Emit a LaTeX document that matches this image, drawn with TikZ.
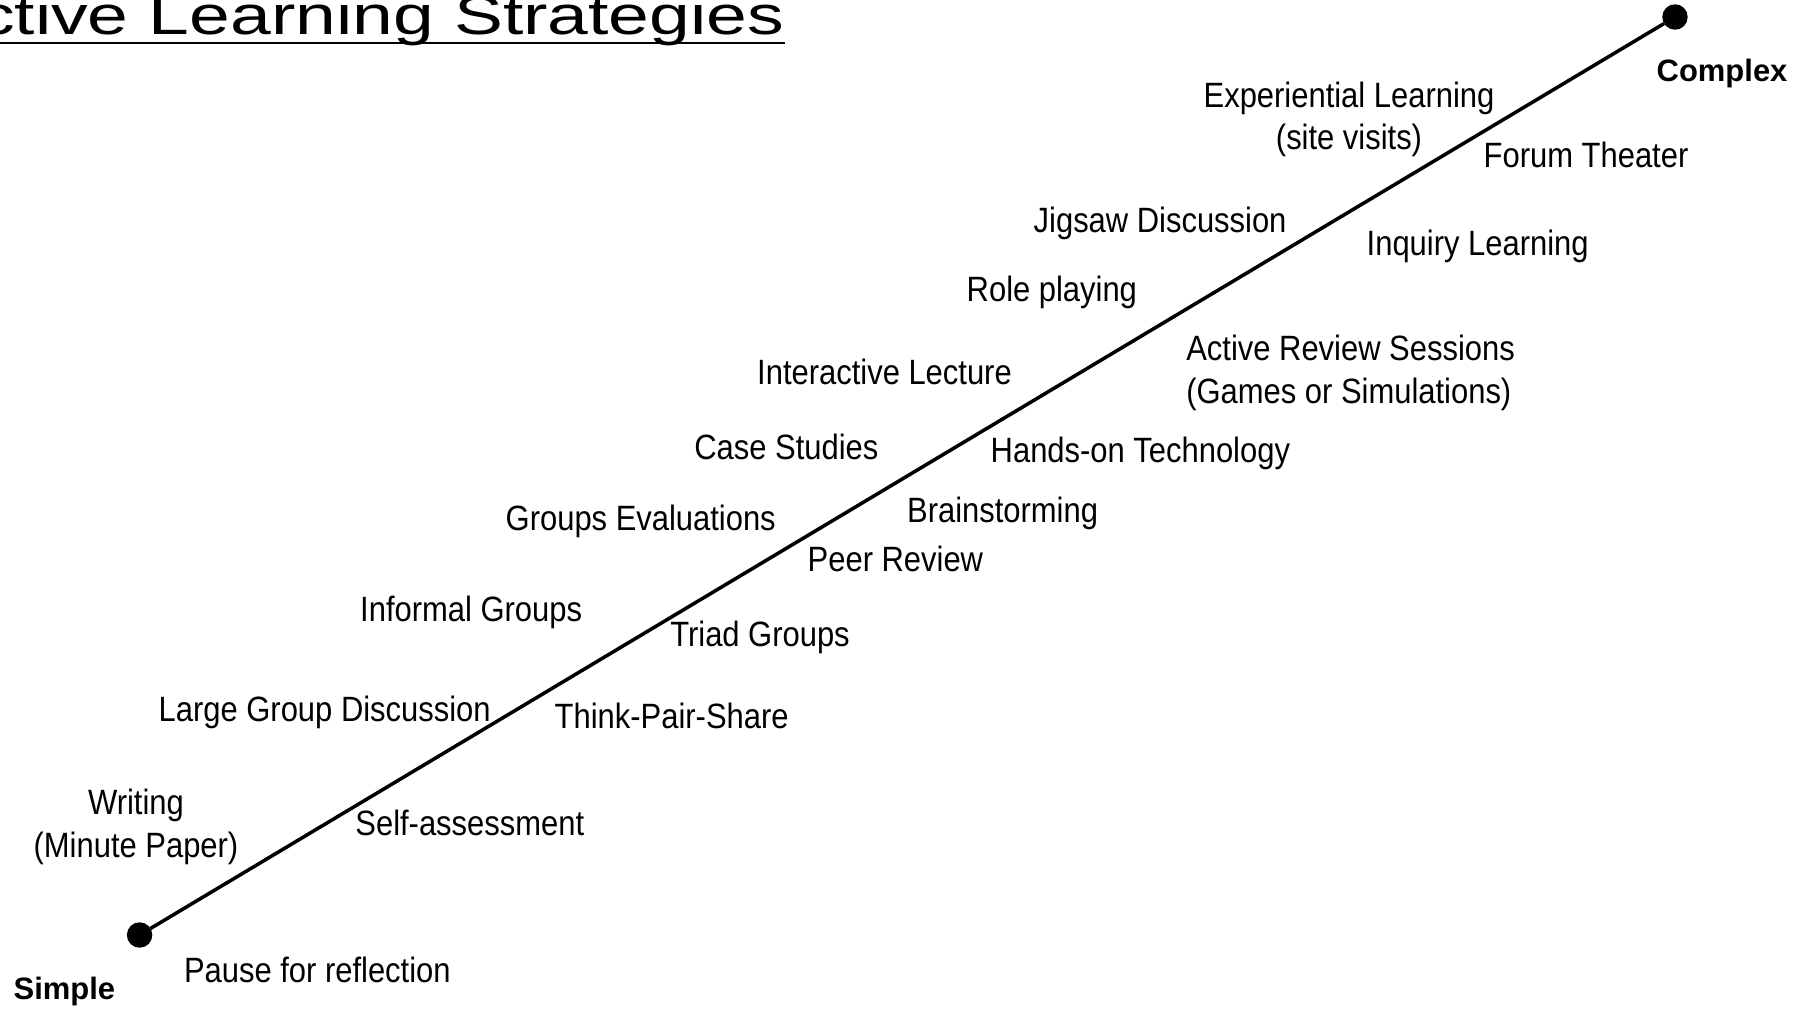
\documentclass[tikz,border=0pt]{standalone}
\usepackage{fontspec}
\setmainfont{Liberation Sans}
\newfontfamily\stratfont[FakeStretch=0.88]{Liberation Sans}
\newfontfamily\headfont[FakeStretch=1.335]{Liberation Sans}
\usetikzlibrary{calc}

\begin{document}
\begin{tikzpicture}
[x=0.01cm,y=-0.01cm,endpoint/.style={draw,circle,fill=black,inner sep=0pt,minimum size=0.24cm},
strat/.style={anchor=base west,inner sep=0pt,font=\stratfont\fontsize{10}{12.2}\selectfont},
pole/.style={anchor=base west,inner sep=0pt,font=\bfseries\fontsize{8.8}{10}\selectfont},]

%Page size
\useasboundingbox (0,0) rectangle (1794,1010);

%Title
\node (title) at (-71.5,34.5)[anchor=base west,inner sep=0pt,font=\headfont\fontsize{15.6}{18}\selectfont] {Active Learning Strategies};
\draw[line width=0.75pt] ($(title.base west)+(0,8.5)$) -- ($(title.base east)+(0,8.5)$);

%Ends of the scale
\node (lo) at (139.6,935)[endpoint] {};
\node (hi) at (1675,17)[endpoint] {};
\draw[line width=1pt] (lo) -- (hi);

\node (simple) at (13,999)[pole] {Simple};
\node (complex) at (1656,82)[pole] {Complex};

%Strategies above the line (base = last line)
\node (exp) at (1349,150)[strat,anchor=base,align=center] {Experiential Learning\\(site visits)};
\node (jig) at (1033,233)[strat] {Jigsaw Discussion};
\node (role) at (966,301.5)[strat] {Role playing};
\node (lect) at (756.5,385)[strat] {Interactive Lecture};
\node (case) at (693.6,459.3)[strat] {Case Studies};
\node (geval) at (505,530.3)[strat] {Groups Evaluations};
\node (informal) at (359.5,621.8)[strat] {Informal Groups};
\node (large) at (158,721.3)[strat] {Large Group Discussion};
\node (writing) at (136,857.5)[strat,anchor=base,align=center] {Writing\\(Minute Paper)};

%Strategies below the line
\node (forum) at (1483,168)[strat] {Forum Theater};
\node (inquiry) at (1366,255.7)[strat] {Inquiry Learning};
\node (review) at (1185.6,403.3)[strat,align=left] {Active Review Sessions\\(Games or Simulations)};
\node (hands) at (990,462.8)[strat] {Hands-on Technology};
\node (brain) at (906.4,522.3)[strat] {Brainstorming};
\node (peer) at (807,571.5)[strat] {Peer Review};
\node (triad) at (669.6,647)[strat] {Triad Groups};
\node (tps) at (554,728.2)[strat] {Think-Pair-Share};
\node (self) at (354.7,835.5)[strat] {Self-assessment};
\node (pause) at (183.3,982.2)[strat] {Pause for reflection};

\end{tikzpicture}
\end{document}
